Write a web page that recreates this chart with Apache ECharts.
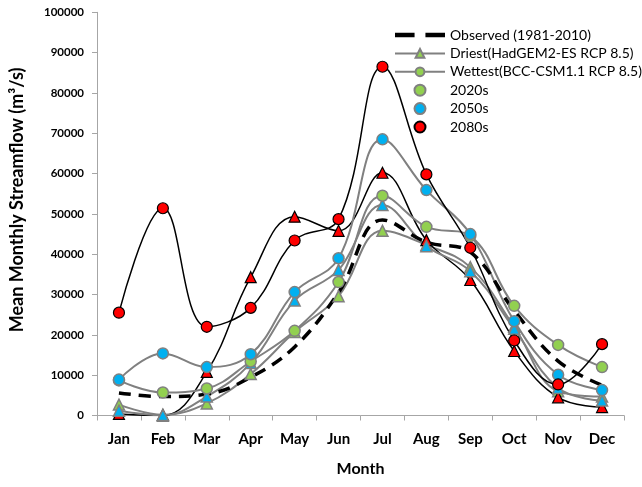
<!DOCTYPE html>
<html>
<head>
<meta charset="utf-8">
<script src="https://cdn.jsdelivr.net/npm/echarts@6/dist/echarts.min.js"></script>
<style>html,body{margin:0;padding:0;background:#fff;}#c{width:642px;height:487px;}</style>
</head>
<body>
<div id="c"></div>
<script>
const months = ['Jan','Feb','Mar','Apr','May','Jun','Jul','Aug','Sep','Oct','Nov','Dec'];
const yTicks = [0,10000,20000,30000,40000,50000,60000,70000,80000,90000,100000];
const observed   = [5600, 4700, 5300, 9500, 17000, 30500, 48500, 43000, 40500, 26000, 13500, 7500];
const wet2080    = [25500, 51400, 22000, 26700, 43400, 48700, 86500, 59800, 41600, 18600, 7700, 17700];
const dry2080    = [400, 0, 10800, 34300, 49300, 45800, 60200, 43500, 33600, 16000, 4500, 2100];
const wet2050    = [8900, 15400, 12000, 15200, 30600, 39000, 68500, 55900, 45000, 23400, 10100, 6300];
const dry2050    = [1200, 100, 4700, 13000, 28500, 36100, 52200, 42000, 35800, 21500, 6800, 3700];
const wet2020    = [8700, 5700, 6700, 13400, 21000, 33100, 54500, 46800, 44500, 27200, 17500, 12000];
const dry2020    = [2700, 200, 3000, 10300, 20700, 29600, 45800, 42300, 36800, 22000, 6000, 4700];

const GREEN='#92d050', BLUE='#00b0f0', RED='#ff0000', GRAY='#808080', BLACK='#000000';
const FONT='Lato';
const SM=0.4;

function scen(name, data, sym, fill, lineColor, lineW, border){
  return {
    name: name, type:'line', data: data, smooth: SM,
    symbol: sym, symbolSize: 11, showSymbol: true,
    lineStyle:{color:lineColor, width:lineW},
    itemStyle:{color:fill, borderColor:border, borderWidth: border===BLACK?1.2:1.5},
    emphasis:{disabled:true}
  };
}
function dummy(name, sym, fill, lineColor, border){
  return {
    name:name, type:'line', data:[], symbol:sym, symbolSize:11,
    color: fill,
    lineStyle:{color:lineColor, width:2},
    itemStyle:{color:fill, borderColor:border, borderWidth:1.5}
  };
}

const chart = echarts.init(document.getElementById('c'), null, {renderer:'canvas'});
chart.setOption({
  animation:false,
  backgroundColor:'#fff',
  textStyle:{fontFamily:FONT},
  grid:{left:97, right:18, top:12.3, bottom:71.5, containLabel:false, outerBoundsMode:'none'},
  legend:{
    orient:'vertical', left:394, top:26, padding:0,
    itemWidth:50, itemHeight:11, itemGap:0.4,
    selectedMode:false,
    textStyle:{fontFamily:FONT, fontSize:14, color:'#000', lineHeight:18},
    data:[
      {name:'Observed (1981-2010)', icon:'path://M0,0h18v4h-18z M28,0h18v4h-18z'},
      {name:'Driest(HadGEM2-ES RCP 8.5)'},
      {name:'Wettest(BCC-CSM1.1 RCP 8.5)'},
      {name:'2020s', icon:'circle'},
      {name:'2050s', icon:'circle'},
      {name:'2080s', icon:'circle'}
    ]
  },
  xAxis:{
    type:'category', data:months, boundaryGap:true,
    name:'Month', nameLocation:'middle', nameGap:45,
    nameTextStyle:{fontFamily:FONT, fontSize:16, fontWeight:'bold', color:'#000'},
    axisLine:{lineStyle:{color:'#a6a6a6', width:1}},
    axisTick:{show:true, length:5, lineStyle:{color:'#a6a6a6'}},
    axisLabel:{fontFamily:FONT, fontSize:15, fontWeight:'bold', color:'#000', margin:16},
    splitLine:{show:false}
  },
  yAxis:{
    type:'value', min:yTicks[0], max:yTicks[yTicks.length-1], interval:yTicks[1]-yTicks[0],
    name:'Mean Monthly Streamflow (m\u00b3/s)', nameLocation:'middle', nameRotate:90, nameGap:71,
    nameTextStyle:{fontFamily:FONT, fontSize:18, fontWeight:'bold', color:'#000', padding:[0,0,0,28]},
    axisLine:{show:true, lineStyle:{color:'#a6a6a6', width:1}},
    axisTick:{show:true, length:5, lineStyle:{color:'#a6a6a6'}},
    axisLabel:{fontFamily:FONT, fontSize:11.5, fontWeight:'bold', color:'#000', margin:13,
      formatter: function(v){ return String(v); }},
    splitLine:{show:false}
  },
  series:[
    scen('2020s Driest', dry2020, 'triangle', GREEN, GRAY, 2, GRAY),
    scen('2080s Driest', dry2080, 'triangle', RED, BLACK, 1.5, BLACK),
    scen('2050s Driest', dry2050, 'triangle', BLUE, GRAY, 2, GRAY),
    scen('2020s Wettest', wet2020, 'circle', GREEN, GRAY, 2, GRAY),
    scen('2050s Wettest', wet2050, 'circle', BLUE, GRAY, 2, GRAY),
    scen('2080s Wettest', wet2080, 'circle', RED, BLACK, 1.5, BLACK),
    {
      name:'Observed (1981-2010)', type:'line', data:observed, smooth:SM,
      symbol:'none', color:BLACK,
      lineStyle:{color:BLACK, width:3.5, type:[12,8]},
      itemStyle:{color:BLACK},
      emphasis:{disabled:true}
    },
    dummy('Driest(HadGEM2-ES RCP 8.5)', 'triangle', GREEN, GRAY, GRAY),
    dummy('Wettest(BCC-CSM1.1 RCP 8.5)', 'circle', GREEN, GRAY, GRAY),
    dummy('2020s', 'circle', GREEN, GRAY, GRAY),
    dummy('2050s', 'circle', BLUE, GRAY, GRAY),
    dummy('2080s', 'circle', RED, BLACK, BLACK)
  ]
});
</script>
</body>
</html>
